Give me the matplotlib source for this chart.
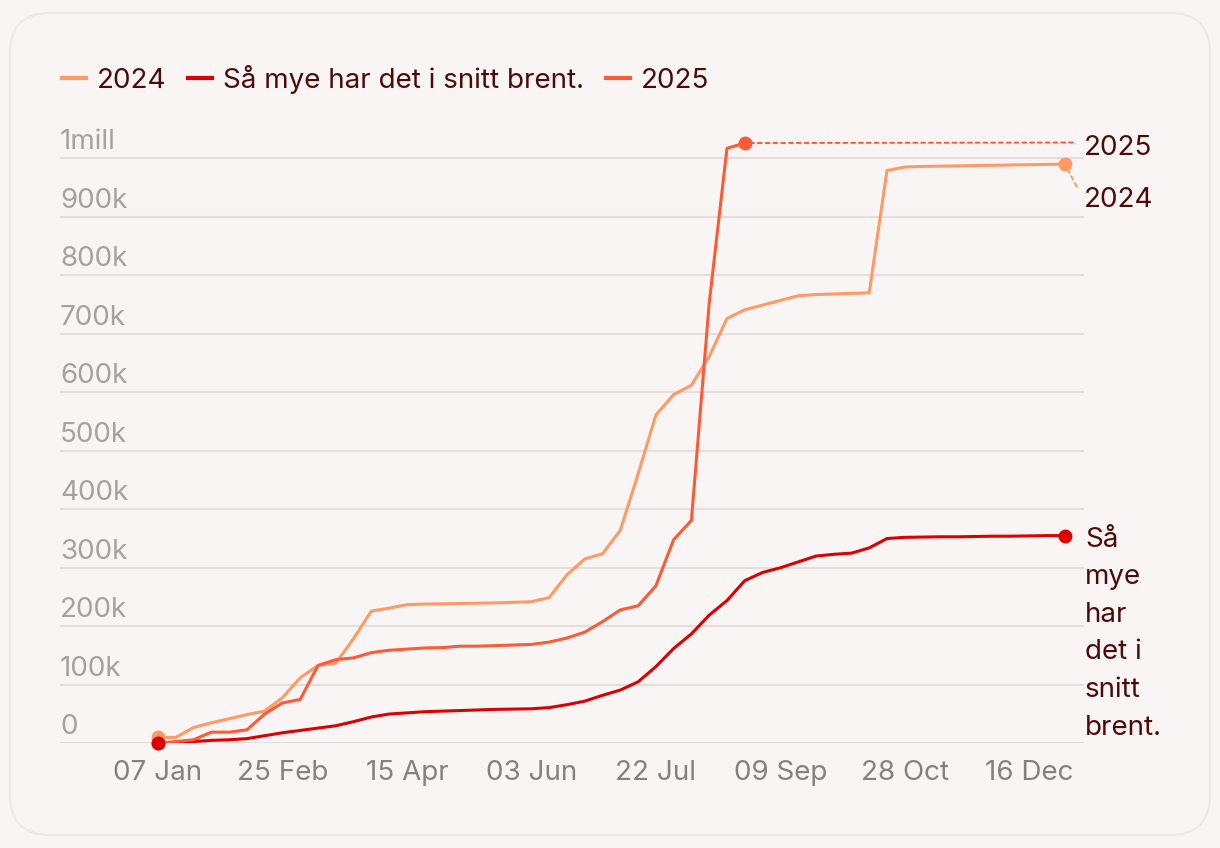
import numpy as np
import matplotlib.pyplot as plt
from matplotlib.patches import FancyBboxPatch
from matplotlib.lines import Line2D
import matplotlib.transforms as mtransforms

plt.rcParams['font.family'] = ['Inter', 'DejaVu Sans']

# ukenummer fra 07 Jan
weeks = np.arange(52)
tick_weeks = [0, 7, 14, 21, 28, 35, 42, 49]
tick_labels = ["07 Jan", "25 Feb", "15 Apr", "03 Jun", "22 Jul", "09 Sep", "28 Oct", "16 Dec"]
y_ticks = [0, 100e3, 200e3, 300e3, 400e3, 500e3, 600e3, 700e3, 800e3, 900e3, 1e6]
y_labels = ["0", "100k", "200k", "300k", "400k", "500k", "600k", "700k", "800k", "900k", "1mill"]

# verdier i tusen
v2024 = [10, 10, 27, 35, 42, 49, 55, 78, 112, 133, 137, 179, 226, 231, 237, 238,
         238.5, 239, 239.5, 240, 241, 242, 249, 288, 315, 324, 364, 460, 561, 596,
         612, 661, 726, 741, 749, 757, 765, 767, 768, 769, 770, 979, 985, 986,
         986.5, 987, 987.5, 988, 988.5, 989, 989.5, 990]
v2025 = [0, 3, 6, 19, 19, 23, 50, 69, 75, 133, 143, 146, 155, 159, 161, 163,
         163.5, 166, 166, 167, 168, 169, 173, 180, 190, 208, 228, 235, 269, 348,
         381, 752, 1017, 1026]
vsnitt = [0, 1, 3, 5, 6, 8, 13, 18, 22, 26, 30, 37, 45, 50, 52, 54, 55, 56, 57,
          58, 58.5, 59, 61, 66, 72, 82, 91, 105, 131, 162, 187, 219, 244, 278,
          292, 300, 310, 320, 323, 325, 334, 350, 352, 352.5, 353, 353, 353.5,
          354, 354, 354.5, 355, 355]

s2024 = np.array(v2024) * 1000
s2025 = np.array(v2025) * 1000
ssnitt = np.array(vsnitt) * 1000

BG = "#F9F5F4"
DARK = "#4B0B0B"
C24 = "#FF9966"
C25 = "#FF5A36"
CSN = "#DD0000"
GRID = "#E7DDDD"

fig = plt.figure(figsize=(12.2, 8.48), dpi=100)
fig.patch.set_facecolor(BG)

# kortet rundt figuren
card = FancyBboxPatch((10, 13), 1200, 822, boxstyle="round,pad=0,rounding_size=40",
                      transform=mtransforms.IdentityTransform(), facecolor=BG,
                      edgecolor="#EFE9E8", lw=1.5, zorder=-10)
fig.patches.append(card)

ax = fig.add_axes([60 / 1220, (848 - 743.3) / 848, 1024 / 1220, (743.3 - 129) / 848])
ax.set_zorder(1)
ax.set_facecolor("none")
ax.set_xlim(-5.51, 52.08)
ax.set_ylim(0, 1.05e6)
for sp in ax.spines.values():
    sp.set_visible(False)

ax.set_yticks(y_ticks)
ax.set_yticklabels([])
ax.yaxis.grid(True, color=GRID, lw=1.5)
ax.set_axisbelow(True)
ax.tick_params(axis="y", length=0)

ylab_tr = mtransforms.offset_copy(ax.get_yaxis_transform(), fig=fig, x=0, y=9, units="dots")
for v, lab in zip(y_ticks, y_labels):
    ax.text(0, v, lab, transform=ylab_tr, ha="left", va="baseline",
            fontsize=20, color="#A6A2A1")

ax.set_xticks(tick_weeks, tick_labels)
ax.tick_params(axis="x", length=0, pad=12, labelsize=20, labelcolor="#858180")

lw = 2.2
ax.plot(weeks, s2024, color=C24, lw=lw, zorder=3)
ax.plot(weeks[:len(s2025)], s2025, color=C25, lw=lw, zorder=4)
ax.plot(weeks, ssnitt, color=CSN, lw=lw, zorder=3)

ax.plot([weeks[0], weeks[-1]], [s2024[0], s2024[-1]], "o", ms=9, color=C24, zorder=5, clip_on=False)
ax.plot([weeks[0], weeks[len(s2025) - 1]], [s2025[0], s2025[-1]], "o", ms=9, color=C25, zorder=5, clip_on=False)
ax.plot([weeks[0], weeks[-1]], [ssnitt[0], ssnitt[-1]], "o", ms=9, color=CSN, zorder=6, clip_on=False)

# etiketter til høyre
ytr = ax.get_yaxis_transform()
ax.annotate("2025", xy=(weeks[len(s2025) - 1], s2025[-1]), xytext=(1.0, s2025[-1] - 8000),
            textcoords=ytr, ha="left", va="center", fontsize=20, color=DARK,
            arrowprops=dict(arrowstyle="-", color=C25, ls=(0, (2, 2)), lw=1.4,
                            shrinkA=6, shrinkB=4, relpos=(0, 0.7)))
ax.annotate("2024", xy=(weeks[-1], s2024[-1]), xytext=(1.0, s2024[-1] - 62000),
            textcoords=ytr, ha="left", va="center", fontsize=20, color=DARK,
            arrowprops=dict(arrowstyle="-", color=C24, ls=(0, (2, 2)), lw=1.4,
                            shrinkA=7, shrinkB=4, relpos=(0, 0.5)))
snitt_tr = mtransforms.offset_copy(ytr, fig=fig, x=1, y=9, units="dots")
ax.text(1.0, ssnitt[-1], "Så\nmye\nhar\ndet i\nsnitt\nbrent.", transform=snitt_tr,
        ha="left", va="top", fontsize=20, color=DARK, linespacing=1.58)

handles = [Line2D([], [], color=C24, lw=3), Line2D([], [], color=CSN, lw=3),
           Line2D([], [], color=C25, lw=3)]
fig.legend(handles, ["2024", "Så mye har det i snitt brent.", "2025"],
           loc="upper left", bbox_to_anchor=(62 / 1220, 1 - 65 / 848), ncol=3,
           frameon=False, fontsize=20, handlelength=0.85, handletextpad=0.4,
           columnspacing=0.8, labelcolor=DARK, borderpad=0, borderaxespad=0)

fig.savefig("out.png", dpi=100, facecolor=BG)
